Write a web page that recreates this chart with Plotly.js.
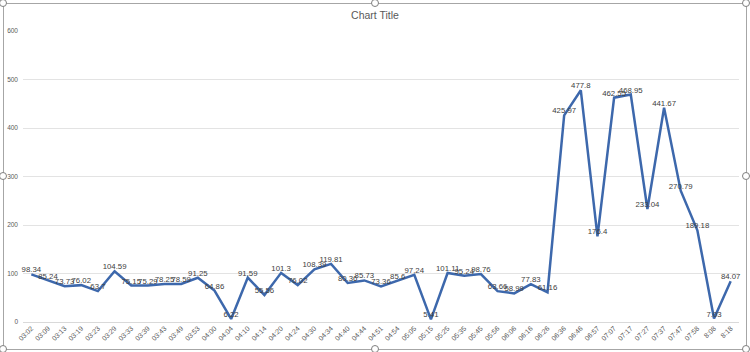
<!DOCTYPE html>
<html>
<head>
<meta charset="utf-8">
<script src="https://cdn.plot.ly/plotly-3.0.1.min.js"></script>
<style>
  html, body { margin: 0; padding: 0; background: #fff; }
  #wrap { position: relative; width: 750px; height: 352px; }
  #chart { position: absolute; left: 0; top: 0; width: 750px; height: 352px; }
  #frame { position: absolute; left: 3px; top: 3px; width: 742px; height: 345px; border: 1px solid #a6a6a6; pointer-events: none; }
  .h { position: absolute; width: 6px; height: 6px; border: 1px solid #7f7f7f; border-radius: 50%; background: #fff; pointer-events: none; }
</style>
</head>
<body>
<div id="wrap">
  <div id="chart"></div>
  <div id="frame"></div>
</div>
<script>
const categories = ["03:02","03:09","03:13","03:19","03:23","03:29","03:33","03:39","03:43","03:49","03:53","04:00","04:04","04:10","04:14","04:20","04:24","04:30","04:34","04:40","04:44","04:51","04:54","05:05","05:15","05:25","05:35","05:45","05:56","06:06","06:16","06:26","06:36","06:46","06:57","07:07","07:17","07:27","07:37","07:47","07:58","8:08","8:18"];
const values = [98.34,85.24,73.73,76.02,63.7,104.59,75.15,75.29,78.25,78.59,91.25,64.86,6.22,91.59,55.56,101.3,76.02,108.39,119.81,80.36,85.73,73.36,85.6,97.24,5.41,101.11,95.24,98.76,63.66,58.99,77.83,61.16,425.97,477.8,176.4,462.55,468.95,233.04,441.67,270.79,189.18,7.03,84.07];
const yTicks = [0,100,200,300,400,500,600];

const trace = {
  type: 'scatter',
  mode: 'lines+text',
  x: categories,
  y: values,
  text: values.map(v => String(v)),
  textposition: 'top center',
  textfont: { family: 'Liberation Sans, Arial, sans-serif', size: 7.8, color: '#404040' },
  line: { color: '#3d68ac', width: 2.5 },
  hoverinfo: 'none',
  cliponaxis: false
};

const layout = {
  width: 750, height: 352,
  margin: { l: 23, r: 11, t: 31, b: 30 },
  paper_bgcolor: 'rgba(0,0,0,0)',
  plot_bgcolor: '#fff',
  showlegend: false,
  title: {
    text: 'Chart Title',
    x: 0.5, xanchor: 'center',
    y: 0.957, yanchor: 'middle',
    font: { family: 'Liberation Sans, Arial, sans-serif', size: 10.5, color: '#595959' }
  },
  xaxis: {
    type: 'category',
    range: [-0.5, categories.length - 0.5],
    autorange: false,
    tickangle: -45,
    tickfont: { family: 'Liberation Sans, Arial, sans-serif', size: 7, color: '#595959' },
    showgrid: false,
    showline: false,
    zeroline: false,
    ticks: '',
    automargin: false,
    fixedrange: true
  },
  yaxis: {
    range: [0, 600],
    autorange: false,
    tickvals: yTicks,
    ticktext: yTicks.map(String),
    tickfont: { family: 'Liberation Sans, Arial, sans-serif', size: 6.5, color: '#595959' },
    gridcolor: '#e3e3e3',
    gridwidth: 1,
    zeroline: true,
    zerolinecolor: '#d9d9d9',
    showline: false,
    ticks: '',
    ticklabelstandoff: 4,
    automargin: false,
    fixedrange: true
  }
};

Plotly.newPlot('chart', [trace], layout, { displayModeBar: false, staticPlot: true });

// selection handles around the chart frame
const wrap = document.getElementById('wrap');
const pts = [[3,3],[375,3],[746,3],[3,176],[746,176],[3,349],[375,349],[746,349]];
pts.forEach(p => {
  const d = document.createElement('div');
  d.className = 'h';
  d.style.left = (p[0] - 4) + 'px';
  d.style.top = (p[1] - 4) + 'px';
  wrap.appendChild(d);
});
</script>
</body>
</html>
